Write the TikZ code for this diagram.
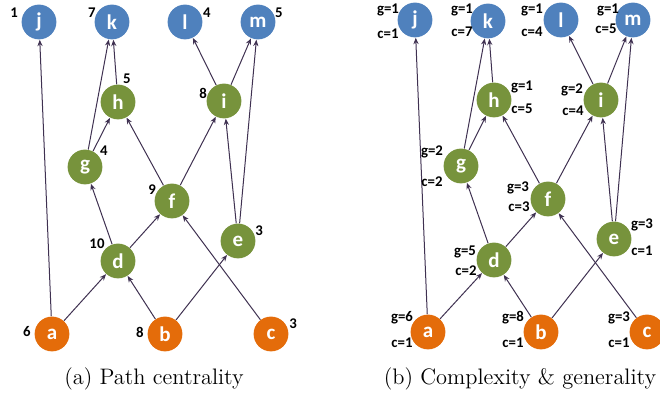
\documentclass[tikz,border=0pt]{standalone}
\usepackage{fontspec}
\setmainfont{Latin Modern Roman}
\newfontfamily\carl{Carlito}
\usetikzlibrary{arrows.meta}
\definecolor{nblue}{HTML}{4F81BD}
\definecolor{ngreen}{HTML}{77933C}
\definecolor{norange}{HTML}{E46C0A}
\definecolor{edgec}{HTML}{3F3151}
\tikzset{
  vtx/.style={circle,minimum size=17.4pt,inner sep=0pt,text=white,font=\carl\bfseries\fontsize{10.5}{11}\selectfont},
  bv/.style={vtx,fill=nblue},
  gv/.style={vtx,fill=ngreen},
  ov/.style={vtx,fill=norange},
  lab/.style={inner sep=0pt,font=\carl\bfseries\fontsize{7.4}{8}\selectfont,text=black},
  edge/.style={draw=edgec,line width=0.5pt,-{Stealth[length=3.2pt,width=2.6pt]}},
  captxt/.style={inner sep=0pt,font=\fontsize{11.2}{13}\selectfont}
}
\begin{document}
\begin{tikzpicture}[x=0.5pt,y=-0.5pt]
\useasboundingbox (0,0) rectangle (660,394);
\clip (0,0) rectangle (660,394);
% ---------- left (a)
\node[bv] (j1) at (39,22) {j};
\node[bv] (k1) at (112,22) {k};
\node[bv] (l1) at (185,22) {l};
\node[bv] (m1) at (258,22) {m};
\node[gv] (h1) at (118,102) {h};
\node[gv] (i1) at (224,101) {i};
\node[gv] (g1) at (85,167) {g};
\node[gv] (f1) at (172,201) {f};
\node[gv] (e1) at (238,241) {e};
\node[gv] (d1) at (118,261) {d};
\node[ov] (a1) at (52,334) {a};
\node[ov] (b1) at (165,334) {b};
\node[ov] (c1) at (271,334) {c};
\foreach \s/\t in {a1/j1,a1/d1,b1/d1,b1/e1,c1/f1,d1/g1,d1/f1,g1/k1,g1/h1,h1/k1,f1/h1,f1/i1,e1/i1,e1/m1,i1/l1,i1/m1}
  \draw[edge] (\s) -- (\t);
\node[lab] (lj1) at (14,13) {1};
\node[lab] (lk1) at (92,13) {7};
\node[lab] (ll1) at (207,13) {4};
\node[lab] (lm1) at (279,13) {5};
\node[lab] (lh1) at (127,79) {5};
\node[lab] (li1) at (203,93) {8};
\node[lab] (lg1) at (104,151) {4};
\node[lab] (lf1) at (152,190) {9};
\node[lab] (ld1) at (97,244) {10};
\node[lab] (le1) at (259,231) {3};
\node[lab] (la1) at (27,332) {6};
\node[lab] (lb1) at (140,332) {8};
\node[lab] (lc1) at (293,324) {3};
\node[captxt] (capa) at (154,379) {(a) Path centrality};
% ---------- right (b)
\node[bv] (j2) at (415,20) {j};
\node[bv] (k2) at (488,21) {k};
\node[bv] (l2) at (561,20) {l};
\node[bv] (m2) at (633,20) {m};
\node[gv] (h2) at (494,100) {h};
\node[gv] (i2) at (601,100) {i};
\node[gv] (g2) at (461,166) {g};
\node[gv] (f2) at (548,199) {f};
\node[gv] (e2) at (614,239) {e};
\node[gv] (d2) at (494,260) {d};
\node[ov] (a2) at (428,332) {a};
\node[ov] (b2) at (541,332) {b};
\node[ov] (c2) at (647,332) {c};
\foreach \s/\t in {a2/j2,a2/d2,b2/d2,b2/e2,c2/f2,d2/g2,d2/f2,g2/k2,g2/h2,h2/k2,f2/h2,f2/i2,e2/i2,e2/m2,i2/l2,i2/m2}
  \draw[edge] (\s) -- (\t);
\node[lab] (gj2) at (388,10) {g=1};
\node[lab] (cj2) at (388,34) {c=1};
\node[lab] (gk2) at (462,10) {g=1};
\node[lab] (ck2) at (462,32) {c=7};
\node[lab] (gl2) at (532,10) {g=1};
\node[lab] (cl2) at (532,32) {c=4};
\node[lab] (gm2) at (608,10) {g=1};
\node[lab] (cm2) at (606,29) {c=5};
\node[lab] (gh2) at (522,87) {g=1};
\node[lab] (ch2) at (522,109) {c=5};
\node[lab] (gi2) at (572,90) {g=2};
\node[lab] (ci2) at (573,111) {c=4};
\node[lab] (gg2) at (432,152) {g=2};
\node[lab] (cg2) at (432,182) {c=2};
\node[lab] (gf2) at (518,188) {g=3};
\node[lab] (cf2) at (519,207) {c=3};
\node[lab] (ge2) at (642,225) {g=3};
\node[lab] (ce2) at (642,251) {c=1};
\node[lab] (gd2) at (465,252) {g=5};
\node[lab] (cd2) at (466,271) {c=2};
\node[lab] (ga2) at (402,318) {g=6};
\node[lab] (ca2) at (402,343) {c=1};
\node[lab] (gb2) at (513,318) {g=8};
\node[lab] (cb2) at (513,343) {c=1};
\node[lab] (gc2) at (619,318) {g=3};
\node[lab] (cc2) at (619,343) {c=1};
\node[captxt] (capb) at (520,379) {(b) Complexity \& generality};
\end{tikzpicture}
\end{document}
